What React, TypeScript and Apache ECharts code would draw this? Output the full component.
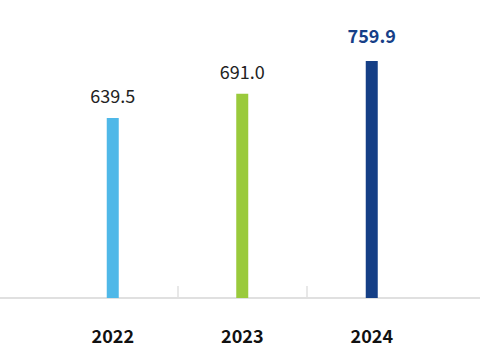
import React, { useEffect, useRef } from "react";
import * as echarts from "echarts";

const years = ["2022", "2023", "2024"];
const values = [639.5, 691.0, 759.9];

const barColors = ["#4fb8e8", "#9aca3c", "#153f86"];
const FONT = "'Noto Sans CJK SC', 'Noto Sans', sans-serif";

export default function App() {
  const ref = useRef<HTMLDivElement>(null);
  useEffect(() => {
    document.body.style.margin = "0";
    if (!ref.current) return;
    const chart = echarts.init(ref.current, null, { renderer: "svg" });
    const gridLeft = 48;
    const gridRight = 43.5;
    const gridBottom = 56;
    chart.setOption({
      animation: false,
      textStyle: { fontFamily: FONT },
      grid: [
        { left: gridLeft, right: gridRight, top: 42, bottom: gridBottom },
        { left: gridLeft, right: gridRight, bottom: gridBottom, height: 12 },
        { left: 0, right: 0, bottom: gridBottom, height: 10 },
      ],
      xAxis: [
        {
          type: "category",
          gridIndex: 0,
          data: years,
          axisLine: { show: false },
          axisTick: { show: false },
          axisLabel: {
            color: "#111",
            fontSize: 18,
            fontWeight: "bold",
            fontFamily: FONT,
            margin: 28,
          },
        },
        {
          type: "category",
          gridIndex: 1,
          data: years,
          axisLine: { show: false },
          axisTick: { show: false },
          axisLabel: { show: false },
          splitLine: {
            show: true,
            showMinLine: false,
            showMaxLine: false,
            lineStyle: { color: "#e0e0e0", width: 1.5 },
          },
        },
        {
          type: "value",
          gridIndex: 2,
          min: 0,
          max: 1,
          axisLine: { show: true, onZero: false, lineStyle: { color: "#e0e0e0", width: 2 } },
          axisTick: { show: false },
          axisLabel: { show: false },
          splitLine: { show: false },
        },
      ],
      yAxis: [
        { type: "value", gridIndex: 0, min: 260, max: 800, show: false },
        { type: "value", gridIndex: 1, show: false },
        { type: "value", gridIndex: 2, show: false },
      ],
      series: [
        {
          type: "bar",
          xAxisIndex: 0,
          yAxisIndex: 0,
          barWidth: 12,
          z: 3,
          data: values.map((v, i) => {
            const last = i === values.length - 1;
            return {
              value: v,
              itemStyle: { color: barColors[i] },
              label: {
                show: true,
                position: "top",
                distance: last ? 17 : 14,
                formatter: (p: any) => Number(p.value).toFixed(1),
                fontFamily: FONT,
                fontSize: 18,
                color: last ? "#173f88" : "#222",
                fontWeight: last ? "bold" : "normal",
              },
            };
          }),
        },
      ],
    });
    return () => chart.dispose();
  }, []);
  return <div ref={ref} style={{ width: 480, height: 354 }} />;
}
